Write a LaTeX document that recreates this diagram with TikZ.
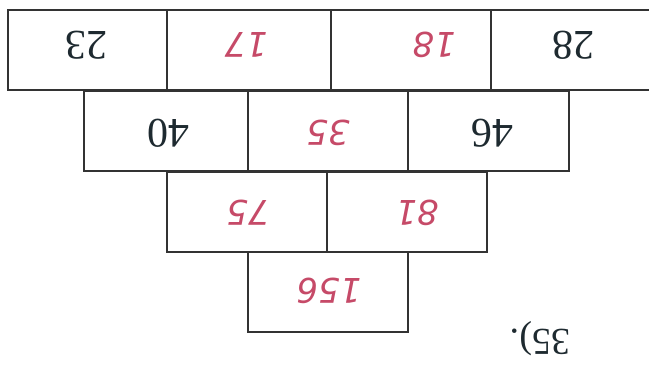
\documentclass[tikz,border=0pt]{standalone}
\usepackage{fontspec}
\setmainfont{Liberation Serif}
\newfontfamily\handfont{DejaVu Sans}
\definecolor{ink}{HTML}{1e2a30}
\definecolor{pen}{HTML}{c64a68}
\definecolor{rule}{HTML}{333333}
\tikzset{
  cell/.style={draw=rule, line width=2.2pt, minimum height=80pt},
  printed/.style={rotate=180, text=ink, font=\fontsize{42}{42}\selectfont},
  handwr/.style={rotate=180, text=pen, font=\handfont\itshape\fontsize{34}{34}\selectfont},
}

\begin{document}
\begin{tikzpicture}[x=1pt, y=-1pt, every node/.style={inner sep=0pt}]

\useasboundingbox[fill=white] (0,0) rectangle (649,365);

% top row (runs off the right edge)
\node[cell, minimum width=159pt] (c11) at (87.5,50) {};
\node[cell, minimum width=164pt] (c12) at (249,50) {};
\node[cell, minimum width=160pt] (c13) at (411,50) {};
\node[cell, minimum width=162pt] (c14) at (572,50) {};

% second row
\node[cell, minimum width=164pt] (c21) at (166,131) {};
\node[cell, minimum width=160pt] (c22) at (328,131) {};
\node[cell, minimum width=161pt] (c23) at (488.5,131) {};

% third row
\node[cell, minimum width=160pt] (c31) at (247,212) {};
\node[cell, minimum width=160pt] (c32) at (407,212) {};

% bottom
\node[cell, minimum width=160pt] (c41) at (328,292) {};

% numbers, upside down as in the scan
\node[printed] (n23) at (86,45) {23};
\node[handwr]  (n17) at (246,45) {17};
\node[handwr]  (n18) at (434,45) {18};
\node[printed] (n28) at (573,45) {28};

\node[printed] (n40) at (168,133) {40};
\node[handwr]  (n35) at (328,133) {35};
\node[printed] (n46) at (492,133) {46};

\node[handwr]  (n75) at (248,213) {75};
\node[handwr]  (n81) at (417,213) {81};

\node[handwr]  (n156) at (329,291) {156};

% exercise number
\node[printed, font=\fontsize{38}{38}\selectfont] (ex) at (540,339) {35).};

\end{tikzpicture}
\end{document}
